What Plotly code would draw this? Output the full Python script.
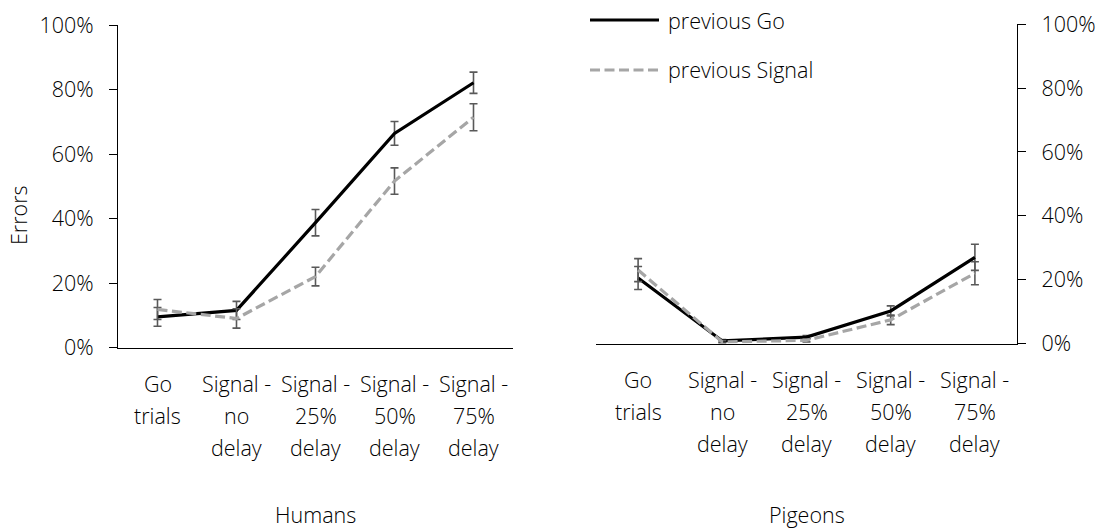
import plotly.graph_objects as go

# ---- data -------------------------------------------------------------
categories = [
    ["Go", "trials"],
    ["Signal -", "no", "delay"],
    ["Signal -", "25%", "delay"],
    ["Signal -", "50%", "delay"],
    ["Signal -", "75%", "delay"],
]
series_names = ["previous Go", "previous Signal"]

humans_prev_go = [9.5, 11.5, 38.7, 66.4, 82.1]
humans_prev_signal = [11.8, 9.0, 22.0, 51.6, 71.4]
humans_prev_go_err = [2.9, 2.8, 4.1, 3.7, 3.3]
humans_prev_signal_err = [3.1, 3.0, 2.9, 4.1, 4.2]

pigeons_prev_go = [20.5, 0.8, 2.0, 10.2, 27.0]
pigeons_prev_signal = [23.0, 0.5, 1.0, 7.4, 22.0]
pigeons_prev_go_err = [3.6, 0.4, 0.5, 1.6, 4.1]
pigeons_prev_signal_err = [3.6, 0.4, 0.5, 1.5, 3.6]

panel_titles = ["Humans", "Pigeons"]
y_title = "Errors"
y_ticks = [0, 20, 40, 60, 80, 100]

# ---- page geometry (pixels) -------------------------------------------
W, H = 1106, 529
FONT = "Open Sans"
TEXT = "#000000"
FSIZE = 21.5


def px(x):
    return x / W


def py(y):
    return 1 - y / H


left_plot = dict(x0=118, x1=513, y0=25, y1=347.5)
right_plot = dict(x0=596, x1=1017, y0=24.3, y1=343.5)

xpos = list(range(len(categories)))
GO_LINE = dict(color="#000000", width=3.2)
SIG_LINE = dict(color="#a6a6a6", width=3.2, dash="10px,4.5px")
ERR = dict(type="data", color="#595959", thickness=1.6, width=4, visible=True)

fig = go.Figure()


def add_panel(xa, ya, go_vals, go_err, sig_vals, sig_err):
    fig.add_trace(go.Scatter(
        x=xpos, y=[v / 100 for v in go_vals], xaxis=xa, yaxis=ya,
        mode="lines", line=GO_LINE, name=series_names[0], showlegend=False,
        error_y=dict(array=[e / 100 for e in go_err], **ERR)))
    fig.add_trace(go.Scatter(
        x=xpos, y=[v / 100 for v in sig_vals], xaxis=xa, yaxis=ya,
        mode="lines", line=SIG_LINE, name=series_names[1], showlegend=False,
        error_y=dict(array=[e / 100 for e in sig_err], **ERR)))


add_panel("x", "y", humans_prev_go, humans_prev_go_err,
          humans_prev_signal, humans_prev_signal_err)
add_panel("x2", "y2", pigeons_prev_go, pigeons_prev_go_err,
          pigeons_prev_signal, pigeons_prev_signal_err)

text_font = dict(family=FONT, size=FSIZE, color=TEXT, weight=300)

xaxis_common = dict(range=[-0.5, len(categories) - 0.5], showgrid=False,
                    zeroline=False, showline=True, linecolor="#000000",
                    linewidth=1.3, ticks="", showticklabels=False,
                    automargin=False)
yaxis_common = dict(range=[0, 1], tickvals=[t / 100 for t in y_ticks],
                    ticktext=[f"{t}%" for t in y_ticks], showgrid=False,
                    zeroline=False, showline=True, linecolor="#000000",
                    linewidth=1.3, ticks="outside", ticklen=8,
                    tickwidth=1.3, tickcolor="#000000",
                    ticklabelstandoff=11, automargin=False,
                    tickfont=text_font)

fig.update_layout(
    width=W, height=H, autosize=False,
    margin=dict(l=0, r=0, t=0, b=0, pad=0, autoexpand=False),
    paper_bgcolor="#ffffff", plot_bgcolor="#ffffff",
    showlegend=False,
    xaxis=dict(domain=[px(left_plot["x0"]), px(left_plot["x1"])],
               anchor="y", **xaxis_common),
    yaxis=dict(domain=[py(left_plot["y1"]), py(left_plot["y0"])],
               anchor="x", side="left", **yaxis_common),
    xaxis2=dict(domain=[px(right_plot["x0"]), px(right_plot["x1"])],
                anchor="y2", **xaxis_common),
    yaxis2=dict(domain=[py(right_plot["y1"]), py(right_plot["y0"])],
                anchor="x2", side="right", **yaxis_common),
)

annotations = []

# category labels, one line at a time so the line spacing stays open
for xa, plot in (("x", left_plot), ("x2", right_plot)):
    for i, lines in enumerate(categories):
        for k, line in enumerate(lines):
            annotations.append(dict(
                x=i, xref=xa, y=py(plot["y1"] + 36 + 32 * k), yref="paper",
                text=line, showarrow=False, xanchor="center", yanchor="middle",
                font=text_font))

# panel titles under each chart
for title, plot in zip(panel_titles, (left_plot, right_plot)):
    annotations.append(dict(
        x=px((plot["x0"] + plot["x1"]) / 2), xref="paper", y=py(514),
        yref="paper", text=title, showarrow=False, xanchor="center",
        yanchor="middle", font=text_font))

# y axis title
annotations.append(dict(
    x=px(18), xref="paper", y=py(215), yref="paper", text=y_title,
    textangle=-90, showarrow=False, xanchor="center", yanchor="middle",
    font=text_font))

# legend
legend_rows = [(series_names[0], GO_LINE, 20), (series_names[1], SIG_LINE, 70)]
shapes = []
for name, style, yy in legend_rows:
    shapes.append(dict(type="line", xref="paper", yref="paper",
                       x0=px(590), x1=px(659), y0=py(yy), y1=py(yy),
                       line=style))
    annotations.append(dict(
        x=px(666), xref="paper", y=py(yy), yref="paper", text=name,
        showarrow=False, xanchor="left", yanchor="middle", font=text_font))

fig.update_layout(annotations=annotations, shapes=shapes)

fig.write_html("out.html")
